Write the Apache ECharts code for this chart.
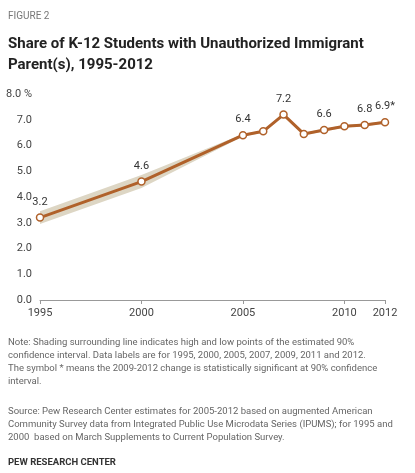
<!DOCTYPE html>
<html><head><meta charset="utf-8">
<script src="https://cdn.jsdelivr.net/npm/echarts@6/dist/echarts.min.js"></script>
<style>body{margin:0;background:#fff}#c{width:415px;height:473px}</style>
</head><body><div id="c"></div>
<script>
const years=[1995,2000,2005,2006,2007,2008,2009,2010,2011,2012];
const share=[3.2,4.6,6.4,6.55,7.2,6.45,6.6,6.75,6.8,6.9];
const low=[2.95,4.35,6.35,6.5,7.15,6.4,6.55,6.7,6.75,6.85];
const high=[3.45,4.85,6.45,6.6,7.25,6.5,6.65,6.8,6.85,6.95];
const labelYears=[1995,2000,2005,2007,2009,2011,2012];
const labelText={2012:'6.9*'};
const xTicks=[1995,2000,2005,2010,2012];
const c=echarts.init(document.getElementById('c'));
const f='Roboto, Arial, sans-serif';
c.setOption({
animation:false,
textStyle:{fontFamily:f},
grid:{left:40,right:30,top:94,bottom:173},
xAxis:{type:'value',min:1995,max:2012,
 axisLine:{lineStyle:{color:'#999'}},
 axisTick:{show:true,customValues:xTicks,length:4,lineStyle:{color:'#999'}},
 axisLabel:{customValues:xTicks,color:'#444',fontSize:11,margin:8,formatter:v=>String(v)},
 splitLine:{show:false}},
yAxis:{type:'value',min:0,max:8,interval:1,
 axisLine:{show:false},axisTick:{show:false},splitLine:{show:false},
 axisLabel:{color:'#444',fontSize:11,margin:8,formatter:v=>v===8?'8.0 %':v.toFixed(1)}},
series:[
 {type:'custom',silent:true,data:[0],renderItem:(params,api)=>{
   const up=years.map((y,i)=>api.coord([y,high[i]]));
   const dn=years.map((y,i)=>api.coord([y,low[i]])).reverse();
   return {type:'polygon',shape:{points:up.concat(dn)},style:{fill:'#ddd6c4'}};
 }},
 {type:'line',data:years.map((y,i)=>[y,share[i]]),symbol:'circle',symbolSize:7,z:3,
  lineStyle:{color:'#b0612a',width:3},itemStyle:{color:'#fff',borderColor:'#b0612a',borderWidth:1.5},
  label:{show:true,position:'top',distance:6,color:'#333',fontSize:11,
   formatter:p=>labelYears.includes(p.value[0])?(labelText[p.value[0]]||p.value[1].toFixed(1)):''}}
],
graphic:[
 {type:'text',left:8,top:11,style:{text:'FIGURE 2',fill:'#777',fontSize:10,fontFamily:f}},
 {type:'text',left:8,top:34,style:{text:'Share of K-12 Students with Unauthorized Immigrant\nParent(s), 1995-2012',fill:'#222',fontSize:15,fontWeight:'bold',lineHeight:21,fontFamily:f}},
 {type:'text',left:8,top:336,style:{text:'Note: Shading surrounding line indicates high and low points of the estimated 90%\nconfidence interval. Data labels are for 1995, 2000, 2005, 2007, 2009, 2011 and 2012.\nThe symbol * means the 2009-2012 change is statistically significant at 90% confidence\ninterval.',fill:'#666',fontSize:9.5,lineHeight:13,fontFamily:f}},
 {type:'text',left:8,top:405,style:{text:'Source: Pew Research Center estimates for 2005-2012 based on augmented American\nCommunity Survey data from Integrated Public Use Microdata Series (IPUMS); for 1995 and\n2000  based on March Supplements to Current Population Survey.',fill:'#666',fontSize:9.5,lineHeight:13,fontFamily:f}},
 {type:'text',left:8,top:458,style:{text:'PEW RESEARCH CENTER',fill:'#333',fontSize:9.5,fontWeight:'bold',fontFamily:f}}
]
});
</script></body></html>
